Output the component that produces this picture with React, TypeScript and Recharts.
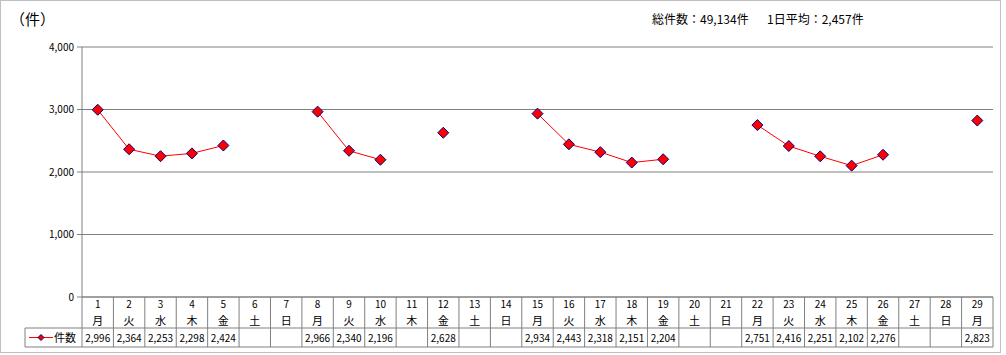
import { LineChart, Line, XAxis, YAxis, CartesianGrid } from 'recharts';

const days = [
  '1', '2', '3', '4', '5', '6', '7', '8', '9', '10', '11', '12', '13', '14', '15',
  '16', '17', '18', '19', '20', '21', '22', '23', '24', '25', '26', '27', '28', '29',
];
const weekdays = [
  '月', '火', '水', '木', '金', '土', '日', '月', '火', '水', '木', '金', '土', '日', '月',
  '火', '水', '木', '金', '土', '日', '月', '火', '水', '木', '金', '土', '日', '月',
];
const counts: (number | null)[] = [
  2996, 2364, 2253, 2298, 2424, null, null, 2966, 2340, 2196, null, 2628, null, null, 2934,
  2443, 2318, 2151, 2204, null, null, 2751, 2416, 2251, 2102, 2276, null, null, 2823,
];
const yTicks = [0, 1000, 2000, 3000, 4000];
const seriesName = '件数';
const unitLabel = '（件）';
const totalLabel = '総件数：49,134件';
const avgLabel = '1日平均：2,457件';

const data = days.map((d, i) => ({ day: d, wd: weekdays[i], count: counts[i] }));

const W = 1006;
const H = 355;
const PLOT_LEFT = 82;
const PLOT_RIGHT = 993;
const PLOT_TOP = 47;
const PLOT_BOTTOM = 297;
const ROW_SPLIT = 328;
const TABLE_BOTTOM = 347;
const LEGEND_LEFT = 25;
const BAND = (PLOT_RIGHT - PLOT_LEFT) / days.length;

const GRID = '#808080';
const FONT = '"Noto Sans CJK JP", sans-serif';
const fmt = (v: number) => v.toLocaleString('en-US');

function Diamond({ cx, cy, r = 5.5 }: { cx: number; cy: number; r?: number }) {
  return (
    <polygon
      points={`${cx},${cy - r} ${cx + r},${cy} ${cx},${cy + r} ${cx - r},${cy}`}
      fill="#ff0000"
      stroke="#000080"
      strokeWidth={1}
    />
  );
}

function TableTick(props: any) {
  const { x, payload, index } = props;
  const half = BAND / 2;
  const v = counts[index];
  return (
    <g fontFamily={FONT} fontSize={10} fill="#000">
      {index === 0 && (
        <g>
          <line x1={LEGEND_LEFT} y1={ROW_SPLIT} x2={PLOT_RIGHT} y2={ROW_SPLIT} stroke={GRID} />
          <line x1={LEGEND_LEFT} y1={TABLE_BOTTOM} x2={PLOT_RIGHT} y2={TABLE_BOTTOM} stroke={GRID} />
          <line x1={LEGEND_LEFT} y1={ROW_SPLIT} x2={LEGEND_LEFT} y2={TABLE_BOTTOM} stroke={GRID} />
          <line x1={x - half} y1={PLOT_BOTTOM} x2={x - half} y2={TABLE_BOTTOM} stroke={GRID} />
          <line x1={29} y1={337.5} x2={53} y2={337.5} stroke="#ff0000" />
          <Diamond cx={41} cy={337.5} r={3} />
          <text x={54} y={342} fontSize={11}>{seriesName}</text>
        </g>
      )}
      <line x1={x + half} y1={PLOT_BOTTOM} x2={x + half} y2={TABLE_BOTTOM} stroke={GRID} />
      <text x={x} y={308} textAnchor="middle">{payload.value}</text>
      <text x={x} y={325} textAnchor="middle" fontSize={11}>{weekdays[index]}</text>
      {v != null && (
        <text x={x} y={342} textAnchor="middle">{fmt(v)}</text>
      )}
    </g>
  );
}

function renderDot(props: any) {
  const { cx, cy, value, index } = props;
  if (value == null || cy == null) return <g key={`d-${index}`} />;
  return <Diamond key={`d-${index}`} cx={cx} cy={cy} />;
}

export default function App() {
  return (
    <div style={{ position: 'absolute', left: 0, top: 0, width: W, height: H, background: '#fff' }}>
      <LineChart
        width={W}
        height={H}
        data={data}
        margin={{ top: PLOT_TOP, right: W - PLOT_RIGHT, bottom: H - TABLE_BOTTOM, left: 0 }}
      >
        <rect x={0.5} y={0.5} width={1000} height={352} fill="none" stroke={GRID} strokeDasharray="1 1" />
        <text x={10} y={25} fontFamily={FONT} fontSize={15} fill="#000">{unitLabel}</text>
        <text x={652} y={24} fontFamily={FONT} fontSize={12} fill="#000">{totalLabel}</text>
        <text x={767} y={24} fontFamily={FONT} fontSize={12} fill="#000">{avgLabel}</text>
        <CartesianGrid vertical={false} stroke={GRID} />
        <XAxis
          dataKey="day"
          interval={0}
          height={TABLE_BOTTOM - PLOT_BOTTOM}
          padding={{ left: BAND / 2, right: BAND / 2 }}
          tickLine={false}
          tickSize={0}
          tickMargin={0}
          axisLine={{ stroke: GRID }}
          tick={<TableTick />}
        />
        <YAxis
          width={PLOT_LEFT}
          domain={[0, 4000]}
          ticks={yTicks}
          tickFormatter={fmt}
          tickSize={5}
          tickMargin={3}
          axisLine={{ stroke: GRID }}
          tickLine={{ stroke: GRID }}
          tick={{ fontFamily: FONT, fontSize: 10, fill: '#000' }}
          interval={0}
        />
        <Line
          dataKey="count"
          stroke="#ff0000"
          strokeWidth={1}
          dot={renderDot}
          activeDot={false}
          isAnimationActive={false}
        />
      </LineChart>
    </div>
  );
}
